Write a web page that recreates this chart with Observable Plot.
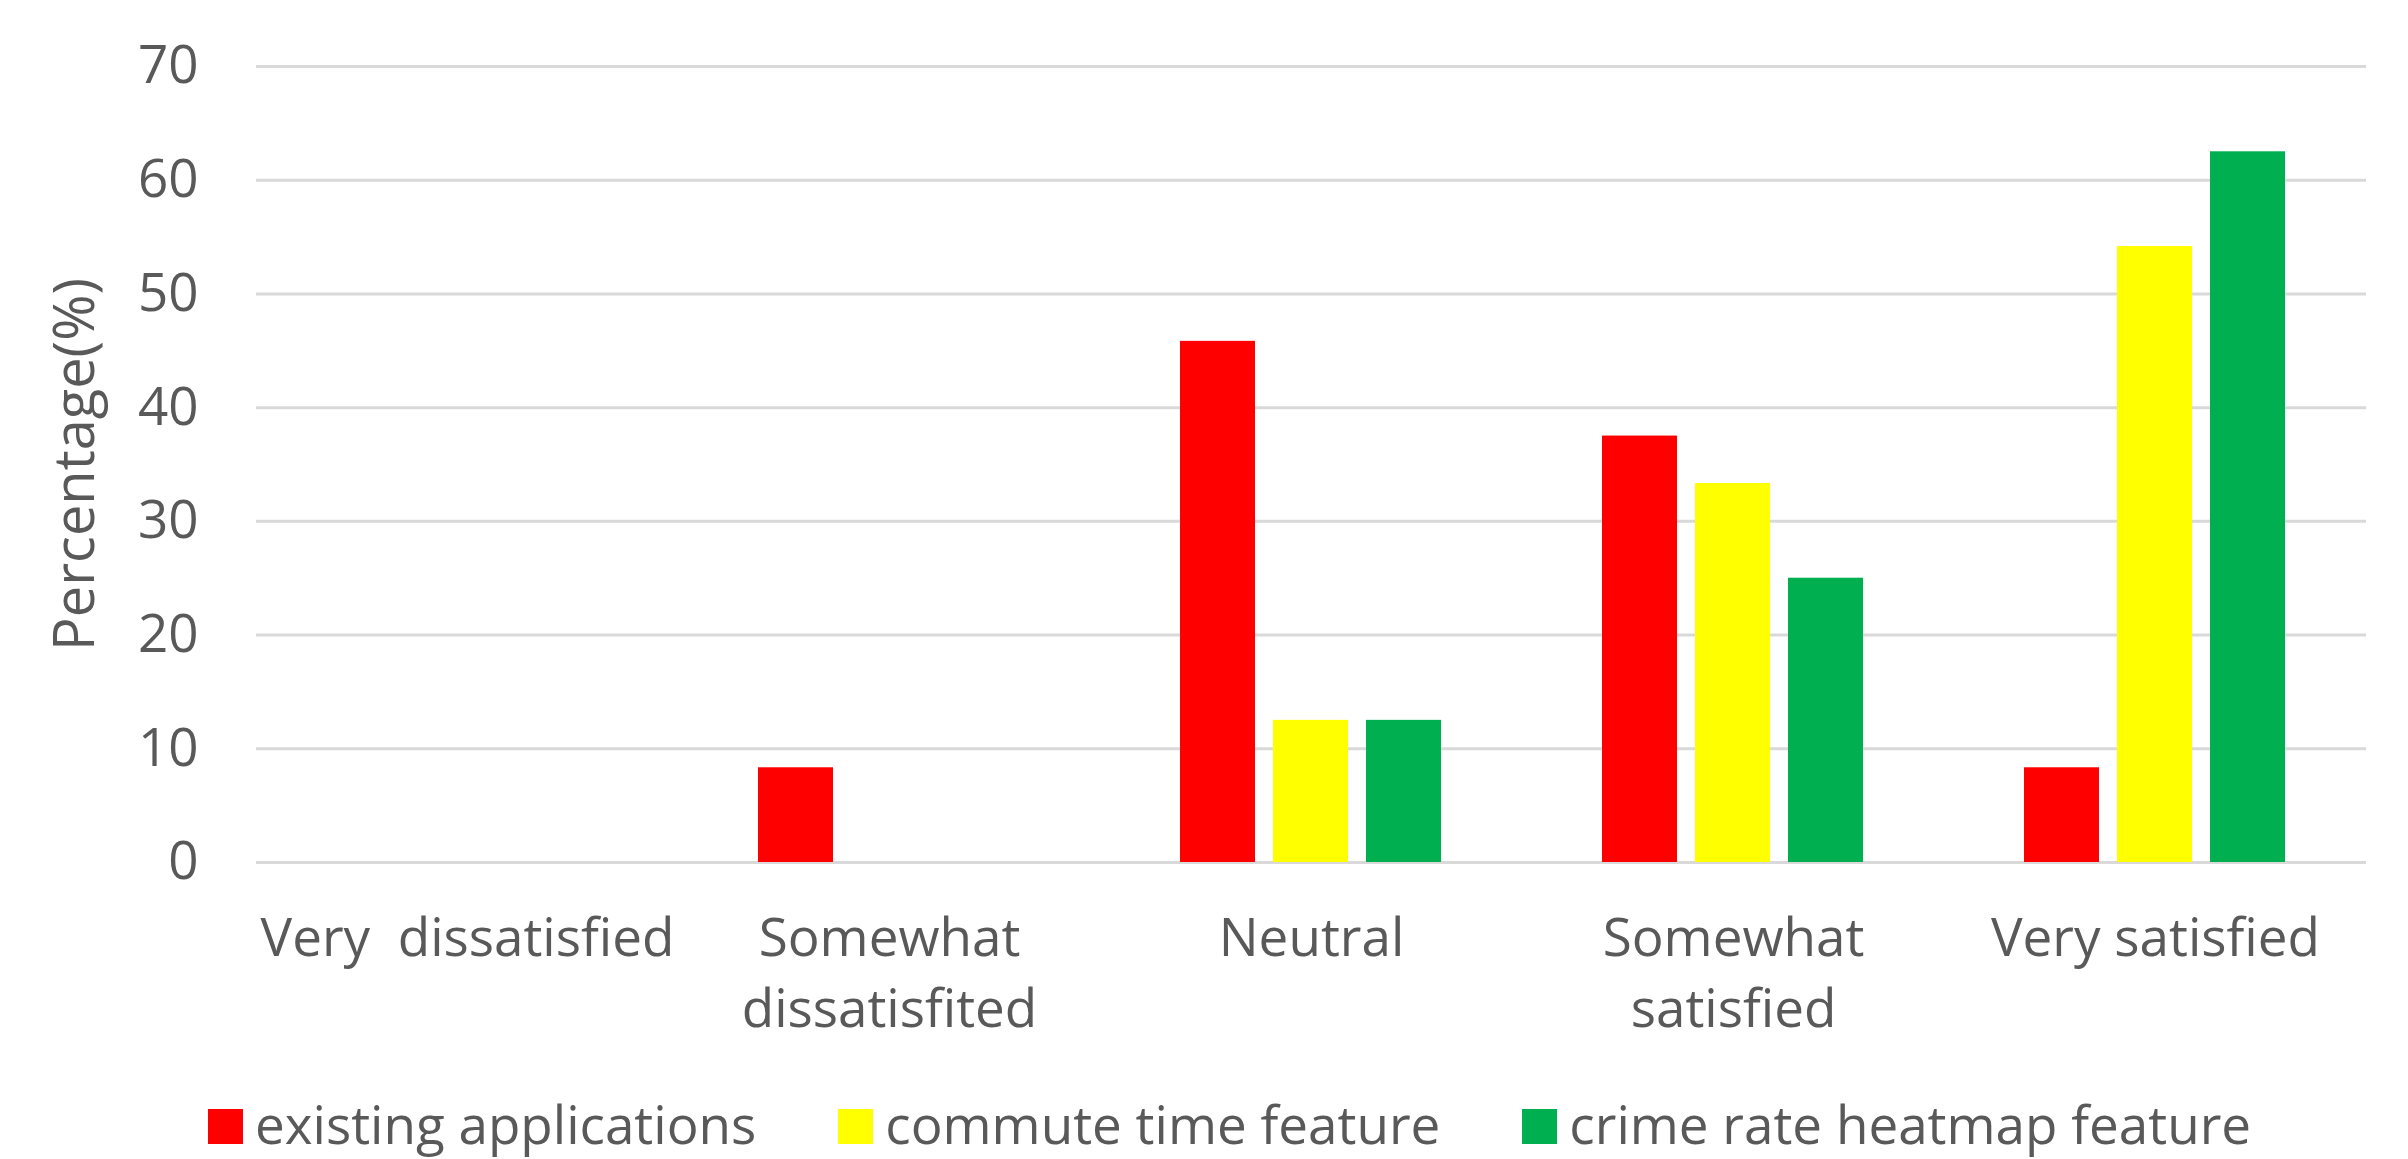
<!DOCTYPE html>
<html>
<head>
<meta charset="utf-8">
<script src="https://cdn.jsdelivr.net/npm/d3@7"></script>
<script src="https://cdn.jsdelivr.net/npm/@observablehq/plot@0.6"></script>
<style>
  html, body { margin: 0; padding: 0; background: #ffffff; }
  body { font-family: "Open Sans", sans-serif; width: 2408px; height: 1159px; overflow: hidden; position: relative; }
  #chart svg text { white-space: pre; }
  #legend { position: absolute; left: 208px; top: 1097px; font-size: 53px; line-height: 53px; color: #595959; white-space: nowrap; }
  #legend .item { display: inline-block; }
  #legend .sw { display: inline-block; width: 35px; height: 35px; vertical-align: baseline; margin-right: 12px; }
</style>
</head>
<body>
<div id="chart"></div>
<div id="legend"></div>
<script>
const categories = ["Very  dissatisfied", "Somewhat\ndissatisfited", "Neutral", "Somewhat\nsatisfied", "Very satisfied"];
const seriesNames = ["existing applications", "commute time feature", "crime rate heatmap feature"];
const seriesColors = ["#FF0000", "#FFFF00", "#00B050"];
const existingApplications = [0, 8.33, 45.83, 37.5, 8.33];
const commuteTimeFeature = [0, 0, 12.5, 33.33, 54.17];
const crimeRateHeatmapFeature = [0, 0, 12.5, 25, 62.5];
const yTicks = [0, 10, 20, 30, 40, 50, 60, 70];

const seriesValues = [existingApplications, commuteTimeFeature, crimeRateHeatmapFeature];
const rows = [];
seriesValues.forEach((vals, si) => vals.forEach((v, ci) => rows.push({category: categories[ci], series: seriesNames[si], value: v})));

const chart = Plot.plot({
  width: 2408,
  height: 1090,
  marginTop: 66,
  marginBottom: 228,
  marginLeft: 254,
  marginRight: 40,
  style: {fontFamily: "'Open Sans', sans-serif", fontSize: "53px", color: "#595959", background: "white"},
  fx: {domain: categories, padding: 0, label: null},
  x: {domain: seriesNames, paddingInner: 0.19, paddingOuter: 0.84, axis: null},
  y: {domain: [0, 70], label: "Percentage(%)"},
  color: {domain: seriesNames, range: seriesColors},
  marks: [
    Plot.gridY(yTicks, {stroke: "#D9D9D9", strokeOpacity: 1, strokeWidth: 3}),
    Plot.barY(rows, {fx: "category", x: "series", y: "value", fill: "series"}),
    Plot.axisY(yTicks, {tickSize: 0, tickPadding: 58, fontSize: 53, fill: "#595959", label: null}),
    Plot.axisY({ticks: [], tickSize: 0, fontSize: 56, fill: "#595959", label: "Percentage(%)", labelAnchor: "center", labelOffset: 202, labelArrow: "none"}),
    Plot.axisFx({anchor: "bottom", tickSize: 0, tickPadding: 43, fontSize: 53, fill: "#595959", lineHeight: 1.34, label: null})
  ]
});
document.getElementById("chart").appendChild(chart);

const legend = document.getElementById("legend");
seriesNames.forEach((name, i) => {
  const item = document.createElement("span");
  item.className = "item";
  if (i > 0) item.style.marginLeft = "82px";
  const sw = document.createElement("span");
  sw.className = "sw";
  sw.style.background = seriesColors[i];
  item.appendChild(sw);
  item.appendChild(document.createTextNode(name));
  legend.appendChild(item);
});
</script>
</body>
</html>
